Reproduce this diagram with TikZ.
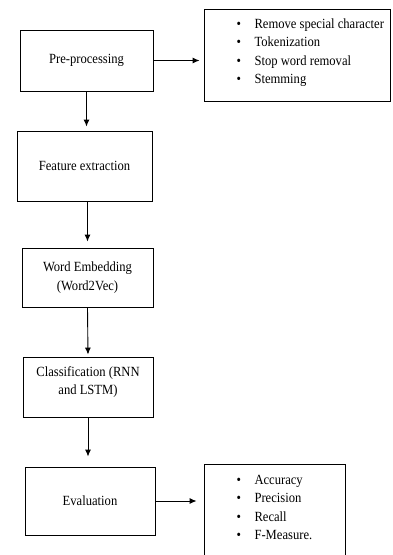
\documentclass[tikz,border=0pt]{standalone}
\usepackage{fontspec}
\setmainfont{Liberation Serif}[FakeStretch=0.9]
\usepackage{tikz}
\usetikzlibrary{arrows,arrows.meta,shapes,positioning}
\newcommand{\blt}{\makebox[18pt][l]{\textbullet}}

\begin{document}
\begin{tikzpicture}[x=1pt,y=-1pt]
                    \tikzstyle{every node}+=[font=\fontsize{14}{18.5}\selectfont]
                    \tikzstyle{stage}=[draw, line width=0.9pt, inner sep=2pt, align=center]
                    \tikzstyle{bullets}=[draw, line width=0.9pt, inner sep=0pt, align=left]
                    \tikzstyle{flow}=[-{Latex[length=7pt,width=6pt]}, line width=0.9pt]
                    \useasboundingbox (0,0) rectangle (392,555);
                    % main steps
                    \node [stage, minimum width=133pt, minimum height=61pt] (pre) at (86.5,60.5) {Pre-processing};
                    \node [stage, minimum width=135pt, minimum height=70pt] (feat) at (84.5,166) {Feature extraction};
                    \node [stage, minimum width=131pt, minimum height=59pt] (emb) at (87.5,277.5) {Word Embedding\\(Word2Vec)};
                    \node [stage, minimum width=130pt, minimum height=60pt] (cls) at (88,387) {};
                    \node [align=center] (clstext) at (88,382) {Classification (RNN\\and LSTM)};
                    \node [stage, minimum width=130pt, minimum height=68pt] (eval) at (90,501) {Evaluation};
                    % side boxes
                    \node [bullets, minimum width=186pt, minimum height=92pt] (prelist) at (297,55) {};
                    \node [align=left, anchor=west] (pretext) at (233,52.5) {\blt Remove special character\\\blt Tokenization\\\blt Stop word removal\\\blt Stemming};
                    \node [bullets, minimum width=141pt, minimum height=105pt] (evallist) at (274.5,516.5) {};
                    \node [align=left, anchor=west] (evaltext) at (233,507.5) {\blt Accuracy\\\blt Precision\\\blt Recall\\\blt F-Measure.};
                    % arrows
                    \draw [flow, shorten >=4pt] (pre.south) -- (pre.south |- feat.north);
                    \draw [flow, shorten >=6pt] (feat.south -| emb.south) -- (emb.north);
                    \draw [flow, shorten >=2pt] (emb.south) -- (cls.north);
                    \draw [flow, shorten >=10pt] (cls.south) -- (cls.south |- eval.north);
                    \draw [flow, shorten >=4pt] (pre.east) -- (pre.east -| prelist.west);
                    \draw [flow, shorten >=7pt] (eval.east) -- (eval.east -| evallist.west);
\end{tikzpicture}
\end{document}
